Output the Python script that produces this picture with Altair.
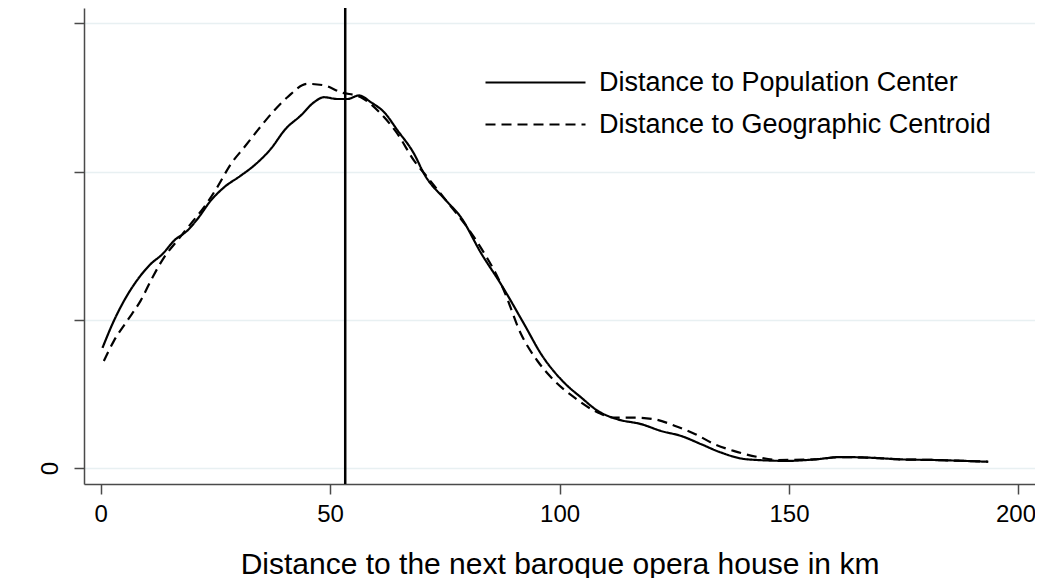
import altair as alt
import pandas as pd

# Kernel density of distance to the next baroque opera house (km)
pop_x = [0.4, 2.9, 5.1, 8.4, 10.9, 13.5, 16.0, 18.9, 21.1, 24.0, 26.9, 30.5, 33.4, 37.1,
         40.3, 43.6, 46.5, 48.7, 51.6, 53.8, 56.3, 58.9, 61.8, 64.7, 68.3, 70.5, 75.3,
         78.5, 82.9, 87.2, 92.3, 96.0, 101.0, 104.7, 108.3, 112.7, 117.8, 122.1, 126.5,
         130.9, 135.2, 141.0, 149.8, 155.6, 161.4, 167.2, 174.5, 181.7, 193.4]
pop_y = [0.00405, 0.00497, 0.00564, 0.00643, 0.00688, 0.00722, 0.00767, 0.00801, 0.00840,
         0.00902, 0.00947, 0.00986, 0.01020, 0.01077, 0.01144, 0.01189, 0.01234, 0.01251,
         0.01245, 0.01245, 0.01257, 0.01234, 0.01200, 0.01139, 0.01060, 0.00992, 0.00902,
         0.00846, 0.00725, 0.00621, 0.00485, 0.00384, 0.00288, 0.00238, 0.00193, 0.00164,
         0.00148, 0.00125, 0.00108, 0.00080, 0.00052, 0.00029, 0.00024, 0.00029, 0.00037,
         0.00035, 0.00029, 0.00027, 0.00021]

geo_x = [0.7, 2.9, 5.8, 8.7, 11.3, 13.8, 16.7, 19.6, 22.5, 25.4, 28.4, 31.3, 34.2, 37.8,
         40.7, 45.1, 48.7, 52.3, 56.7, 61.1, 64.7, 68.3, 71.0, 75.3, 81.4, 87.9, 91.6,
         95.2, 98.9, 103.2, 107.6, 112.0, 116.4, 120.8, 125.2, 129.6, 133.8, 138.1,
         143.2, 147.6, 155.6, 161.4, 167.2, 174.5, 181.7, 193.4]
geo_y = [0.00361, 0.00429, 0.00497, 0.00564, 0.00643, 0.00710, 0.00767, 0.00823, 0.00879,
         0.00947, 0.01026, 0.01082, 0.01139, 0.01206, 0.01251, 0.01296, 0.01291, 0.01268,
         0.01251, 0.01195, 0.01127, 0.01037, 0.00985, 0.00902, 0.00778, 0.00598, 0.00452,
         0.00361, 0.00294, 0.00238, 0.00193, 0.00170, 0.00170, 0.00164, 0.00142, 0.00114,
         0.00080, 0.00057, 0.00037, 0.00027, 0.00029, 0.00037, 0.00035, 0.00029, 0.00027,
         0.00021]

series = ["Distance to Population Center", "Distance to Geographic Centroid"]
vline = [53.3]
x_ticks = [0, 50, 100, 150, 200]
y_ticks = [0, 0.005, 0.01, 0.015]

df = pd.concat([
    pd.DataFrame({"dist": pop_x, "density": pop_y, "series": series[0]}),
    pd.DataFrame({"dist": geo_x, "density": geo_y, "series": series[1]}),
])
df_v = pd.DataFrame({"dist": vline})

FONT = "Liberation Sans"
AXIS_GREY = "#4a4a4a"

x_enc = alt.X("dist:Q",
              scale=alt.Scale(domain=[-3.62, 203.6], nice=False, zero=False),
              axis=alt.Axis(values=x_ticks, title="Distance to the next baroque opera house in km",
                            grid=False, tickSize=10, labelFontSize=24, titleFontSize=30,
                            labelPadding=8, titlePadding=23, labelFlush=False,
                            labelOffset={"condition": {"test": "datum.value == 200", "value": -3},
                                         "value": 0},
                            labelFont=FONT, titleFont=FONT, titleFontWeight="normal",
                            labelColor="black", titleColor="black",
                            domainColor=AXIS_GREY, domainWidth=1.5,
                            tickColor=AXIS_GREY, tickWidth=1.5))

lines = alt.Chart(df).mark_line(color="black", strokeWidth=2.2, interpolate="monotone").encode(
    x=x_enc,
    y=alt.Y("density:Q",
            scale=alt.Scale(domain=[-0.00054, 0.01552], nice=False, zero=False),
            axis=alt.Axis(values=y_ticks, labelExpr="datum.value == 0 ? '0' : ''",
                          title=None, grid=True, gridColor="#e8f0f2", gridWidth=1.5,
                          tickSize=10, labelAngle=270, labelAlign="center",
                          labelBaseline="bottom", labelPadding=12, labelFontSize=24,
                          labelFont=FONT, labelColor="black",
                          domainColor=AXIS_GREY, domainWidth=1.5,
                          tickColor=AXIS_GREY, tickWidth=1.5)),
    strokeDash=alt.StrokeDash("series:N",
                              scale=alt.Scale(domain=series, range=[[1, 0], [10, 6]]),
                              legend=alt.Legend(orient="none", legendX=437.5, legendY=60.5,
                                                symbolType="M-4,0L4,0", symbolSize=625,
                                                symbolStrokeWidth=2.2, symbolStrokeColor="black",
                                                labelFont=FONT, labelFontSize=27,
                                                labelColor="black", labelOffset=49.5,
                                                labelLimit=0,
                                                rowPadding=15, title=None, padding=0)),
    order=alt.Order("dist:Q"),
)

rule = alt.Chart(df_v).mark_rule(color="black", strokeWidth=2.5).encode(x=alt.X("dist:Q"))

chart = alt.layer(lines, rule).properties(
    width=951, height=476,
    padding={"left": 76, "top": 0, "right": 0, "bottom": 94},
    autosize=alt.AutoSizeParams(type="none"),
    background="white",
).configure_view(stroke=None)

chart.save("out.html", embed_options={"renderer": "svg", "actions": False})
